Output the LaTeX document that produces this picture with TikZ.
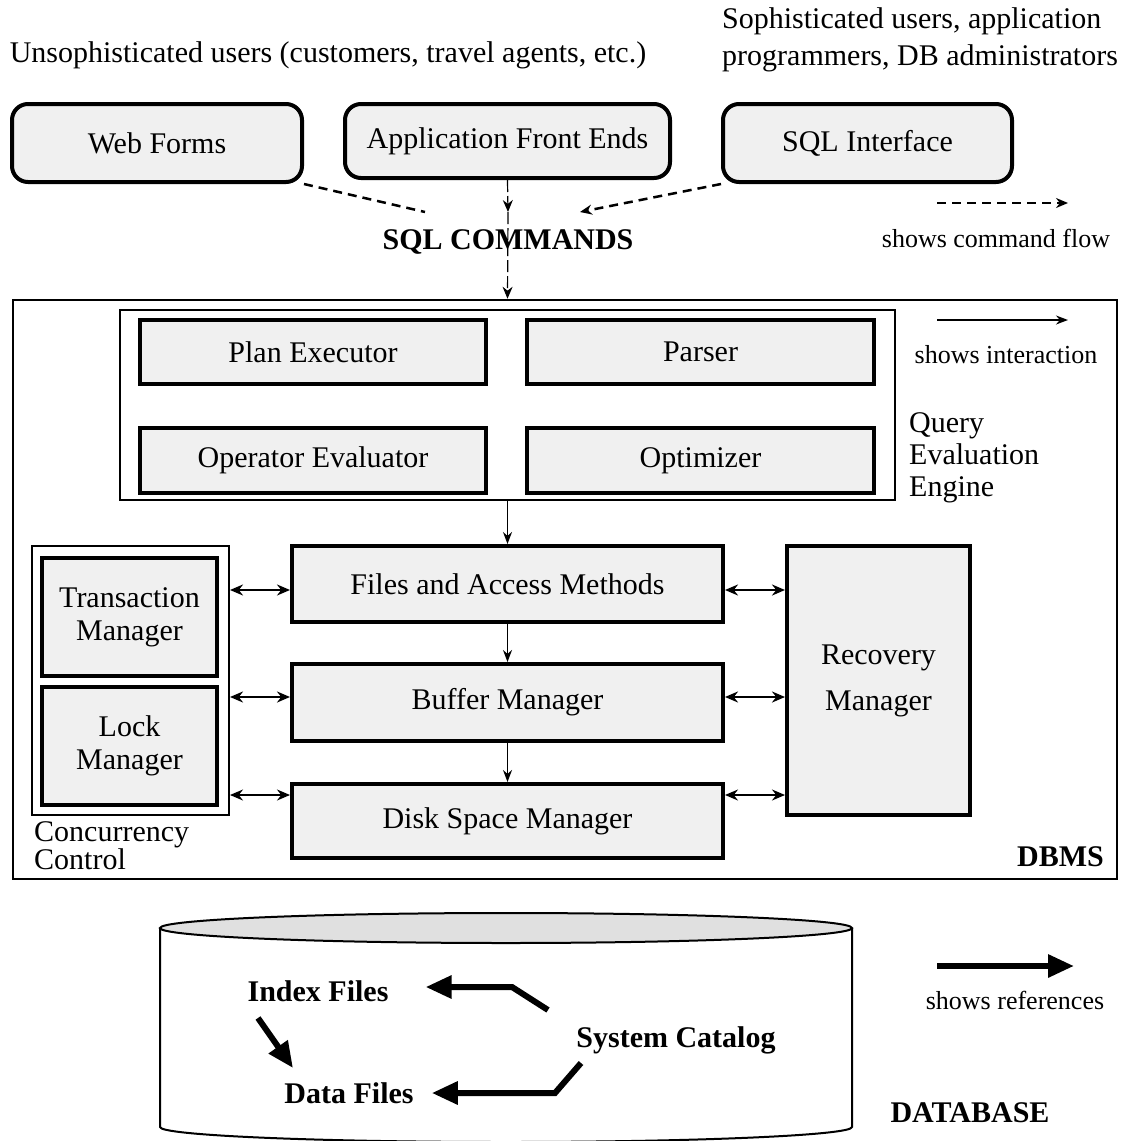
\documentclass[tikz,border=0pt]{standalone}
\usepackage{fontspec}
\setmainfont{Liberation Serif}
\usetikzlibrary{arrows.meta,calc}
\definecolor{boxgray}{HTML}{F0F0F0}
\definecolor{topgray}{HTML}{E0E0E0}
\begin{document}
\begin{tikzpicture}[x=1pt,y=-1pt,
 every node/.style={font=\fontsize{30}{33}\selectfont, inner sep=0pt},
 ubox/.style={draw, line width=4pt, fill=boxgray, rounded corners=16pt, align=center},
 mbox/.style={draw, line width=4pt, fill=boxgray, align=center},
 legtxt/.style={font=\fontsize{26}{28}\selectfont},
 boldtxt/.style={font=\fontsize{30}{33}\selectfont\bfseries},
 cmd/.style={dash pattern=on 9pt off 6pt, line width=2.5pt},
 cmdthin/.style={dash pattern=on 12pt off 4pt, line width=1.2pt},
 cmdtip/.style={-{Stealth[length=12pt,width=10pt]}},
 inter/.style={line width=1.5pt, -{Stealth[length=12pt,width=9pt]}},
 dbl/.style={line width=2.5pt, {Stealth[length=13pt,width=11pt]}-{Stealth[length=13pt,width=11pt]}},
 dblthin/.style={line width=1.5pt, {Stealth[length=13pt,width=11pt]}-{Stealth[length=13pt,width=11pt]}},
 ref/.style={line width=6pt, -{Triangle[length=26pt,width=22pt]}},
]
\useasboundingbox (0,0) rectangle (1123,1141);

% top texts
\node (uns) at (328,55) {Unsophisticated users (customers, travel agents, etc.)};
\node[anchor=west, align=left, font=\fontsize{30}{37}\selectfont] (soph) at (722,40) {Sophisticated users, application\\programmers, DB administrators};

% user interface boxes
\node[ubox, minimum width=290pt, minimum height=78pt] (wf) at (157,143) {Web Forms};
\node[ubox, minimum width=325pt, minimum height=74pt] (afe) at (507.5,141) {Application Front Ends};
\node[ubox, minimum width=289pt, minimum height=78pt] (sqli) at (867.5,143) {SQL Interface};

\node[boldtxt] (sqlc) at (508,242) {SQL COMMANDS};

% DBMS box
\node[draw, line width=2.5pt, minimum width=1104pt, minimum height=579pt] (dbms) at (565,589.5) {};
\node[boldtxt, anchor=east] (dbmsl) at (1104,857) {DBMS};

% command flow
\coordinate (c1) at (508,212);
\coordinate (wfend) at (425,212);
\coordinate (sqend) at (580,212);
\draw[cmd] (wf.south east) -- (wfend);
\draw[cmd, cmdtip] (sqli.south west) -- (sqend);
\draw[cmdthin, cmdtip] (afe.south) -- (c1);
\draw[cmdthin, cmdtip] (c1) -- (afe.south |- dbms.north);

% legend
\coordinate (lg1a) at (937,203); \coordinate (lg1b) at (1068,203);
\draw[cmd, cmdtip] (lg1a) -- (lg1b);
\node[legtxt] (lg1t) at (996,238) {shows command flow};
\coordinate (lg2a) at (937,320); \coordinate (lg2b) at (1068,320);
\draw[inter] (lg2a) -- (lg2b);
\node[legtxt] (lg2t) at (1006,355) {shows interaction};
\coordinate (lg3a) at (937,966); \coordinate (lg3b) at (1074,966);
\draw[ref] (lg3a) -- (lg3b);
\node[legtxt] (lg3t) at (1015,1000) {shows references};

% query evaluation engine
\node[draw, line width=1.5pt, minimum width=775pt, minimum height=190pt] (qee) at (507.5,405) {};
\node[mbox, minimum width=346pt, minimum height=64pt] (pe) at (313,352) {Plan Executor};
\node[mbox, minimum width=347pt, minimum height=64pt] (pa) at (700.5,352) {Parser};
\node[mbox, minimum width=346pt, minimum height=65pt] (oe) at (313,460.5) {Operator Evaluator};
\node[mbox, minimum width=347pt, minimum height=65pt] (op) at (700.5,460.5) {Optimizer};
\node[anchor=west, align=left, font=\fontsize{30}{32}\selectfont] (qeel) at (909,458) {Query\\Evaluation\\Engine};

% storage stack
\node[mbox, minimum width=431pt, minimum height=76pt] (fam) at (507.5,584) {Files and Access Methods};
\node[mbox, minimum width=431pt, minimum height=77pt] (bm) at (507.5,702.5) {Buffer Manager};
\node[mbox, minimum width=431pt, minimum height=74pt] (dsm) at (507.5,821) {Disk Space Manager};
\draw[inter] (qee.south) -- (fam.north);
\draw[inter] (fam.south) -- (bm.north);
\draw[inter] (bm.south) -- (dsm.north);

% concurrency control
\node[draw, line width=2pt, minimum width=197pt, minimum height=269pt] (cc) at (130.5,680.5) {};
\node[mbox, minimum width=175pt, minimum height=118pt] (tm) at (129.5,617) {Transaction\\Manager};
\node[mbox, minimum width=175pt, minimum height=118pt] (lm) at (129.5,746) {Lock\\Manager};
\node[anchor=north west, align=left, font=\fontsize{30}{23}\selectfont] (ccl) at (34,821) {Concurrency\\Control};

% recovery manager
\node[mbox, minimum width=183pt, minimum height=269pt] (rm) at (878.5,680.5) {Recovery\\[13pt]Manager};

% interactions
\draw[dbl] (cc.east |- 0,590) -- (fam.west |- 0,590);
\draw[dbl] (cc.east |- 0,697) -- (bm.west |- 0,697);
\draw[dblthin] (cc.east |- 0,795) -- (dsm.west |- 0,795);
\draw[dbl] (fam.east |- 0,590) -- (rm.west |- 0,590);
\draw[dbl] (bm.east |- 0,697) -- (rm.west |- 0,697);
\draw[dblthin] (dsm.east |- 0,795) -- (rm.west |- 0,795);

% database cylinder
\draw[line width=2pt] (160,928) -- (160,1127) arc[start angle=180, end angle=0, x radius=346, y radius=15] -- (852,928);
\draw[line width=2pt, fill=topgray] (506,928) ellipse[x radius=346, y radius=15];
\node[boldtxt] (idx) at (318,991) {Index Files};
\node[boldtxt] (dat) at (349,1093) {Data Files};
\node[boldtxt] (sc) at (676,1040) {System Catalog};
\node[boldtxt] (dbl) at (970,1113) {DATABASE};

\coordinate (r1s) at (548,1010);
\coordinate (r1b) at (512,987);
\coordinate (r2s) at (258,1018);
\coordinate (r2e) at (293,1068);
\coordinate (r3s) at (581,1063);
\coordinate (r3b) at (555,1093);
\draw[ref] (r1s) -- (r1b) -- ([xshift=37pt]idx.east |- r1b);
\draw[ref] (r2s) -- (r2e);
\draw[ref] (r3s) -- (r3b) -- ([xshift=18pt]dat.east |- r3b);
\end{tikzpicture}
\end{document}
